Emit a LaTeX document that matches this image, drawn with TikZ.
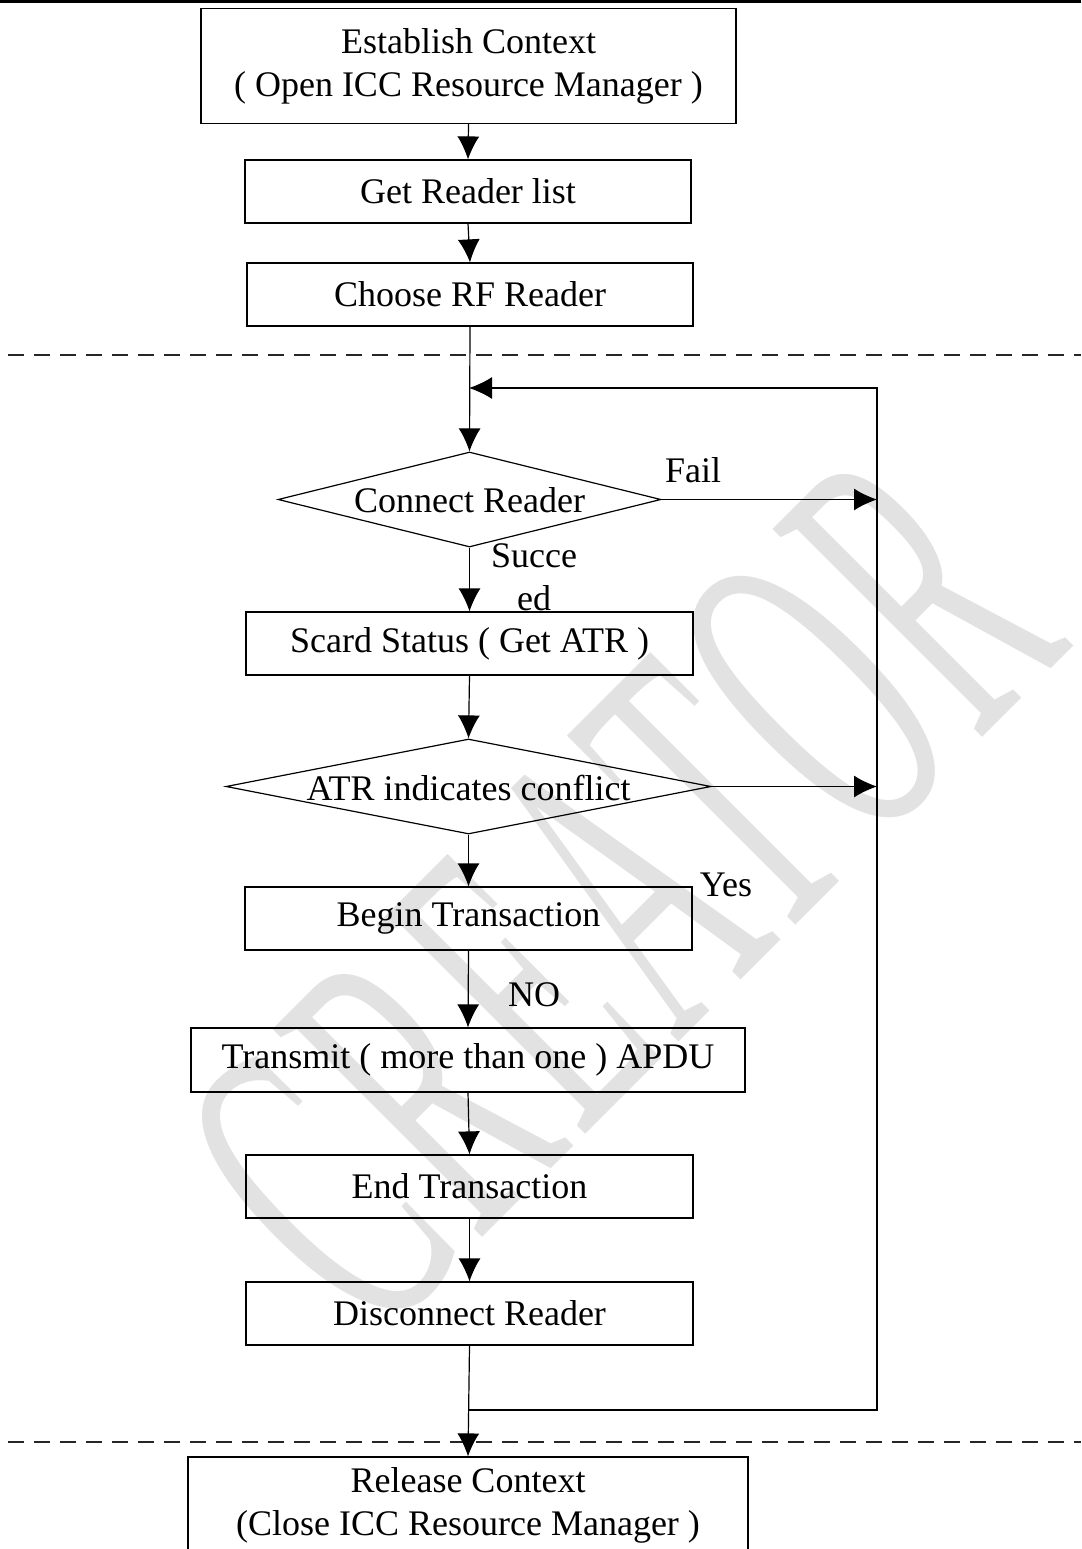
\documentclass[tikz,border=0pt]{standalone}
\usepackage{fontspec}
\setmainfont{Liberation Serif}
\usetikzlibrary{shapes.geometric,arrows.meta}
\definecolor{wmgray}{RGB}{226,226,226}
\begin{document}
\begin{tikzpicture}[x=1pt,y=1pt,
  box/.style={draw, line width=1.2pt, inner sep=0pt, minimum height=63pt,
              font=\fontsize{36}{43}\selectfont, align=center},
  decision/.style={draw, diamond, line width=1.2pt, inner sep=0pt, minimum height=95pt},
  lbl/.style={inner sep=0pt, font=\fontsize{36}{43}\selectfont},
  conn/.style={line width=1.2pt, -{Latex[length=23pt,width=22pt]}},
  sepline/.style={line width=1.5pt, dash pattern=on 16pt off 10pt, black!85},
]
\useasboundingbox (0,0) rectangle (1081,-1549);
% watermark
\begin{scope}[shift={(620,-892)}, rotate=45, yscale=2.2]
  \node[transform shape, inner sep=0pt, text=wmgray,
        font=\fontsize{205}{205}\selectfont\addfontfeatures{LetterSpace=5}] (wm) at (0,0) {CREATOR};
\end{scope}
% top rule
\draw[line width=3pt] (0,-2) -- (1081,-2);
% separators
\draw[sepline] (8,-355) -- (1081,-355);
\draw[sepline] (8,-1442) -- (1081,-1442);
% nodes
\node[box, minimum width=535pt, minimum height=115pt] (b1) at (468.5,-66) {Establish Context\\( Open ICC Resource Manager )};
\node[box, minimum width=446pt] (b2) at (468,-191.5) {Get Reader list};
\node[box, minimum width=446pt] (b3) at (470,-294.5) {Choose RF Reader};
\node[decision, minimum width=383pt] (d1) at (469.5,-499.5) {};
\node[lbl] (d1t) at (469.5,-500) {Connect Reader};
\node[box, minimum width=447pt] (b4) at (469.5,-643.5) {Scard Status ( Get ATR )};
\node[decision, minimum width=485pt] (d2) at (468.5,-786.5) {};
\node[lbl] (d2t) at (468.5,-788) {ATR indicates conflict};
\node[box, minimum width=447pt] (b5) at (468.5,-918.5) {Begin Transaction};
\node[box, minimum width=554pt, minimum height=64pt] (b6) at (468,-1060) {Transmit ( more than one ) APDU};
\node[box, minimum width=447pt] (b7) at (469.5,-1186.5) {End Transaction};
\node[box, minimum width=447pt] (b8) at (469.5,-1313.5) {Disconnect Reader};
\node[box, minimum width=560pt, minimum height=96pt] (b9) at (468,-1505) {Release Context\\(Close ICC Resource Manager )};
% labels
\node[lbl] (lfail) at (693,-470) {Fail};
\node[lbl] (lsuc1) at (534,-556) {Succe};
\node[lbl] (lsuc2) at (534,-598) {ed};
\node[lbl] (lyes) at (726,-885) {Yes};
\node[lbl] (lno) at (534,-995) {NO};
% loop coordinates
\coordinate (lm) at (469,-388);
\coordinate (lp) at (877,-388);
\coordinate (lb) at (877,-1410);
\coordinate (lj) at (469,-1410);
% connectors
\draw[conn] (b1.south) -- (b2.north);
\draw[conn] (b2.south) -- (b3.north);
\draw[conn] (b3.south) -- (d1.north);
\draw[conn] (lj) -- (lb) -- (lp) -- (lm);
\draw[conn] (d1.east) -- (d1.east -| lp);
\draw[conn] (d1.south) -- (b4.north);
\draw[conn] (b4.south) -- (d2.north);
\draw[conn] (d2.east) -- (d2.east -| lp);
\draw[conn] (d2.south) -- (b5.north);
\draw[conn] (b5.south) -- (b6.north);
\draw[conn] (b6.south) -- (b7.north);
\draw[conn] (b7.south) -- (b8.north);
\draw[conn] (b8.south) -- (b9.north);
\end{tikzpicture}
\end{document}
